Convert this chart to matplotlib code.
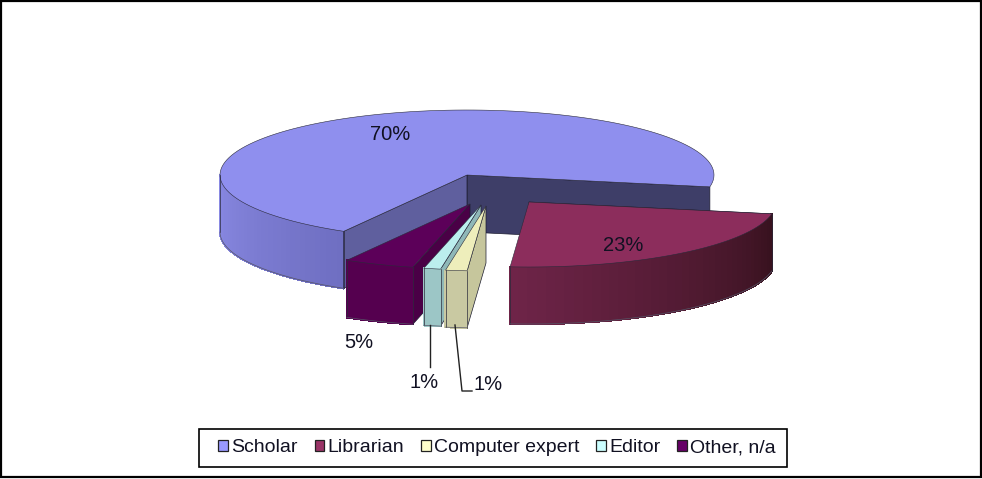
import numpy as np
import matplotlib.pyplot as plt
from matplotlib.colors import to_rgb
from matplotlib.patches import Patch, Rectangle

plt.rcParams['font.family'] = ['Liberation Sans', 'DejaVu Sans']

# chart data
labels = ["Scholar", "Librarian", "Computer expert", "Editor", "Other, n/a"]
values = [69.6, 23.3, 1.4, 1.1, 4.6]
shown = ["70%", "23%", "1%", "1%", "5%"]

# colours per slice
top_colors = ["#8f8fee", "#8c2d5c", "#eeeebb", "#bbeeee", "#5c0059"]
legend_colors = ["#9999ff", "#993366", "#ffffcc", "#ccffff", "#660066"]
wall_start = ["#8a8ae4", "#6e2448", "#c9c9a2", "#9cc6c6", "#55004f"]
wall_end = ["#6f6fc2", "#38121f", "#c9c9a2", "#9cc6c6", "#55004f"]
side_colors = ["#5f5f9e", "#5a1d3b", "#c6c69c", "#8fb8b8", "#4a0046"]

# layout in pixels
rx, ry, depth = 247, 65, 57
apex = [(467, 175), (529, 202), (486, 206), (481, 205), (470, 204)]
start_angle = -10.5
label_pos = [(390, 134), (623, 245), (488, 384), (424, 382), (359, 343)]

fig = plt.figure(figsize=(9.82, 4.79), dpi=100)
ax = fig.add_axes([0, 0, 1, 1])
ax.set_xlim(0, 982)
ax.set_ylim(479, 0)
ax.axis("off")

# slices run clockwise from the start angle
sweeps = [v / sum(values) * 360 for v in values]
ranges = [(start_angle, start_angle + sweeps[0])]
a = start_angle
for s in sweeps[1:]:
    ranges.append((a - s, a))
    a = a - s


def rim(c, t):
    t = np.radians(t)
    return c[0] + rx * np.cos(t), c[1] - ry * np.sin(t)


def side_wall(c, t, color):
    x, y = rim(c, t)
    ax.fill([c[0], x, x, c[0]], [c[1], y, y + depth, c[1] + depth],
            facecolor=color, edgecolor="#1c1c30", linewidth=0.5)


def outer_wall(c, t0, t1, col0, col1):
    # gradient made of thin strips
    ts = np.linspace(t0, t1, 40)
    c0 = np.array(to_rgb(col0))
    c1 = np.array(to_rgb(col1))
    for i in range(len(ts) - 1):
        x, y = rim(c, np.linspace(ts[i], ts[i + 1], 4))
        col = c0 + (c1 - c0) * i / (len(ts) - 2)
        ax.fill(np.r_[x, x[::-1]], np.r_[y, y[::-1] + depth], facecolor=col,
                edgecolor=col, linewidth=1.0, antialiased=False)
    x, y = rim(c, ts)
    ax.plot([x[0], x[0]], [y[0], y[0] + depth], color="#2a2a3a", lw=0.5)
    ax.plot([x[-1], x[-1]], [y[-1], y[-1] + depth], color="#2a2a3a", lw=0.5)
    ax.plot(x, y + depth, color="#555566", lw=0.5)


def top_face(c, t0, t1, color):
    x, y = rim(c, np.linspace(t0, t1, 120))
    ax.fill(np.r_[c[0], x], np.r_[c[1], y], facecolor=color, edgecolor="#2a2a3a", linewidth=0.4)


# scholar first, it sits behind everything
t0, t1 = ranges[0]
outer_wall(apex[0], 180, t1, wall_start[0], wall_end[0])
side_wall(apex[0], start_angle, "#3e3e68")
side_wall(apex[0], t1, side_colors[0])
top_face(apex[0], t0, t1, top_colors[0])

# then the rest from left to right, librarian last
for i in [4, 3, 2, 1]:
    t0, t1 = ranges[i]
    side_wall(apex[i], t1, side_colors[i])
    outer_wall(apex[i], t0, t1, wall_start[i], wall_end[i])
    top_face(apex[i], t0, t1, top_colors[i])

# leader lines for the small slices
ax.plot([430, 430], [325, 367], color="#222222", lw=1)
ax.plot([455, 462, 472], [325, 391, 391], color="#222222", lw=1)

for p, s in zip(label_pos, shown):
    ax.text(p[0], p[1], s, fontsize=14.5, color="#111122", ha="center", va="center")

# legend, its box is drawn apart so the padding can differ per side
ax.add_patch(Rectangle((199, 429), 588, 38, facecolor="white", edgecolor="black", linewidth=1.2))
handles = [Patch(facecolor=c, edgecolor="#222222", linewidth=0.9) for c in legend_colors]
leg = ax.legend(handles, labels, ncol=5, loc="center", bbox_to_anchor=(497, 448),
                bbox_transform=ax.transData, fontsize=14, frameon=False,
                handlelength=0.5, handleheight=0.5, handletextpad=0.16,
                columnspacing=0.87, borderpad=0, labelcolor="#111122")

# outer frame
ax.add_patch(Rectangle((1, 1), 980, 476, fill=False, edgecolor="black", linewidth=1.6))

plt.savefig("out.png", dpi=100)
